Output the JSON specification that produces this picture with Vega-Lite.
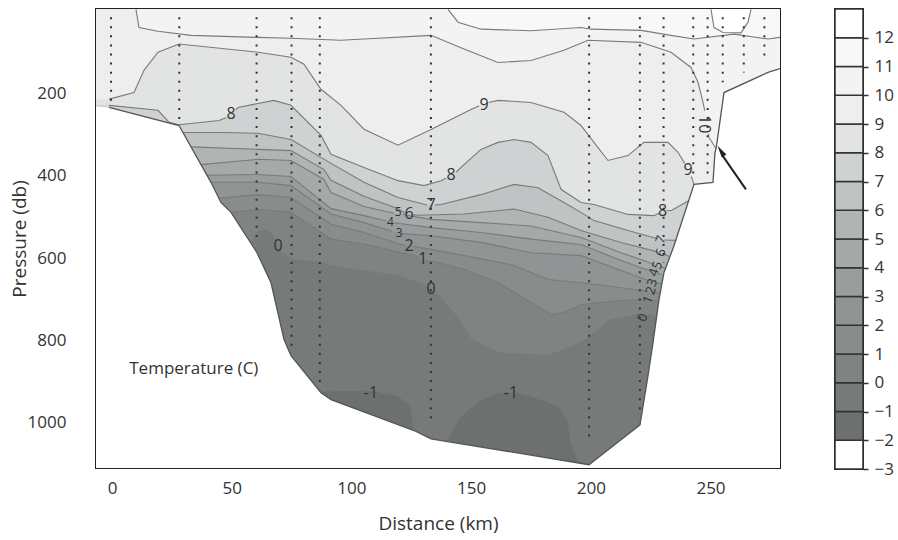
{
  "$schema": "https://vega.github.io/schema/vega-lite/v6.json",
  "padding": {"left": 9, "top": 7, "right": 5, "bottom": 5},
  "spacing": 51,
  "config": {
    "font": "Open Sans",
    "view": {"stroke": "#222", "strokeWidth": 2},
    "axis": {"labelColor": "#333", "titleColor": "#333", "tickColor": "#222", "domain": false, "grid": false, "titleFontWeight": "normal"}
  },
  "resolve": {"scale": {"color": "independent"}},
  "datasets": {
    "bottom": [
      {"x": -6.68, "p": 232}, {"x": -1.25, "p": 234}, {"x": 27.99, "p": 278}, {"x": 41.35, "p": 416},
      {"x": 45.5, "p": 465}, {"x": 49.71, "p": 489}, {"x": 60.57, "p": 587}, {"x": 66.42, "p": 660}, {"x": 71.85, "p": 798},
      {"x": 74.77, "p": 837}, {"x": 87.3, "p": 927}, {"x": 91.48, "p": 944}, {"x": 126.15, "p": 1019}, {"x": 133.25, "p": 1039},
      {"x": 199.25, "p": 1102}, {"x": 220.55, "p": 1005}, {"x": 223.89, "p": 886}, {"x": 225.98, "p": 806}, {"x": 228.49, "p": 701},
      {"x": 230.58, "p": 635}, {"x": 234.75, "p": 570}, {"x": 243.11, "p": 421}, {"x": 251.04, "p": 416}, {"x": 251.88, "p": 343},
      {"x": 252.3, "p": 334}, {"x": 252.72, "p": 319}, {"x": 255.64, "p": 198}, {"x": 274.02, "p": 149}, {"x": 279.03, "p": 140}
    ],
    "iso": [
      {"t": -1, "x": -6.68, "p": 1110}, {"t": -1, "x": 86.7, "p": 1110},
      {"t": -1, "x": 86.88, "p": 924, "seg": "m1a"}, {"t": -1, "x": 91.48, "p": 922, "seg": "m1a"}, {"t": -1, "x": 104.8, "p": 922, "seg": "m1a"},
      {"t": -1, "x": 111.8, "p": 925, "seg": "m1b"}, {"t": -1, "x": 119.47, "p": 934, "seg": "m1b"}, {"t": -1, "x": 124.9, "p": 959, "seg": "m1b"}, {"t": -1, "x": 126.15, "p": 1017, "seg": "m1b"},
      {"t": -1, "x": 126.3, "p": 1110}, {"t": -1, "x": 139.8, "p": 1110},
      {"t": -1, "x": 139.93, "p": 1045, "seg": "m1c"}, {"t": -1, "x": 144.53, "p": 992, "seg": "m1c"}, {"t": -1, "x": 147.03, "p": 976, "seg": "m1c"}, {"t": -1, "x": 154.14, "p": 944, "seg": "m1c"}, {"t": -1, "x": 160, "p": 929, "seg": "m1c"}, {"t": -1, "x": 163.3, "p": 926, "seg": "m1c"},
      {"t": -1, "x": 170, "p": 928, "seg": "m1d"}, {"t": -1, "x": 175.02, "p": 935, "seg": "m1d"}, {"t": -1, "x": 186.3, "p": 959, "seg": "m1d"}, {"t": -1, "x": 190.48, "p": 992, "seg": "m1d"}, {"t": -1, "x": 191.73, "p": 1049, "seg": "m1d"}, {"t": -1, "x": 194.65, "p": 1090, "seg": "m1d"},
      {"t": -1, "x": 194.8, "p": 1110}, {"t": -1, "x": 279.03, "p": 1110},

      {"t": 0, "x": -6.68, "p": 1110}, {"t": 0, "x": 57.9, "p": 1110},
      {"t": 0, "x": 58.06, "p": 564, "seg": "z0a"}, {"t": 0, "x": 61, "p": 536, "seg": "z0a"}, {"t": 0, "x": 65, "p": 532, "seg": "z0a"}, {"t": 0, "x": 67.8, "p": 552, "seg": "z0a"},
      {"t": 0, "x": 71, "p": 588, "seg": "z0b"}, {"t": 0, "x": 74.77, "p": 603, "seg": "z0b"}, {"t": 0, "x": 87.3, "p": 611, "seg": "z0b"}, {"t": 0, "x": 91.48, "p": 619, "seg": "z0b"}, {"t": 0, "x": 105.26, "p": 631, "seg": "z0b"}, {"t": 0, "x": 119.47, "p": 643, "seg": "z0b"}, {"t": 0, "x": 130.3, "p": 664, "seg": "z0b"},
      {"t": 0, "x": 136.2, "p": 690, "seg": "z0c"}, {"t": 0, "x": 138.68, "p": 708, "seg": "z0c"}, {"t": 0, "x": 144.53, "p": 745, "seg": "z0c"}, {"t": 0, "x": 149.96, "p": 797, "seg": "z0c"}, {"t": 0, "x": 161.24, "p": 830, "seg": "z0c"}, {"t": 0, "x": 182.12, "p": 837, "seg": "z0c"}, {"t": 0, "x": 192.98, "p": 813, "seg": "z0c"}, {"t": 0, "x": 199.25, "p": 793, "seg": "z0c"}, {"t": 0, "x": 208.44, "p": 750, "seg": "z0c"}, {"t": 0, "x": 219.72, "p": 737, "seg": "z0c"},
      {"t": 0, "x": 223.6, "p": 737, "seg": "z0d"}, {"t": 0, "x": 227.65, "p": 740, "seg": "z0d"},
      {"t": 0, "x": 227.8, "p": 1110}, {"t": 0, "x": 279.03, "p": 1110},

      {"t": 1, "x": -6.68, "p": 1110}, {"t": 1, "x": 49.6, "p": 1110},
      {"t": 1, "x": 49.71, "p": 489, "seg": "o1a"}, {"t": 1, "x": 60.99, "p": 482, "seg": "o1a"}, {"t": 1, "x": 74.77, "p": 489, "seg": "o1a"}, {"t": 1, "x": 91.48, "p": 554, "seg": "o1a"}, {"t": 1, "x": 105.26, "p": 566, "seg": "o1a"}, {"t": 1, "x": 126.15, "p": 594, "seg": "o1a"}, {"t": 1, "x": 128.3, "p": 599, "seg": "o1a"},
      {"t": 1, "x": 131.3, "p": 606, "seg": "o1b"}, {"t": 1, "x": 133.25, "p": 607, "seg": "o1b"}, {"t": 1, "x": 147.03, "p": 627, "seg": "o1b"}, {"t": 1, "x": 161.24, "p": 660, "seg": "o1b"}, {"t": 1, "x": 175.02, "p": 708, "seg": "o1b"}, {"t": 1, "x": 183.38, "p": 737, "seg": "o1b"}, {"t": 1, "x": 188.8, "p": 732, "seg": "o1b"}, {"t": 1, "x": 195.91, "p": 713, "seg": "o1b"}, {"t": 1, "x": 212.61, "p": 703, "seg": "o1b"}, {"t": 1, "x": 222.6, "p": 701, "seg": "o1b"},
      {"t": 1, "x": 225.4, "p": 702, "seg": "o1c"}, {"t": 1, "x": 228.07, "p": 706, "seg": "o1c"},
      {"t": 1, "x": 228.3, "p": 1110}, {"t": 1, "x": 279.03, "p": 1110},

      {"t": 2, "x": -6.68, "p": 1110}, {"t": 2, "x": 44.6, "p": 1110},
      {"t": 2, "x": 44.69, "p": 455, "seg": "t2a"}, {"t": 2, "x": 60.99, "p": 446, "seg": "t2a"}, {"t": 2, "x": 74.77, "p": 453, "seg": "t2a"}, {"t": 2, "x": 91.48, "p": 518, "seg": "t2a"}, {"t": 2, "x": 105.26, "p": 538, "seg": "t2a"}, {"t": 2, "x": 120.72, "p": 567, "seg": "t2a"}, {"t": 2, "x": 122.4, "p": 569, "seg": "t2a"},
      {"t": 2, "x": 125.8, "p": 572, "seg": "t2b"}, {"t": 2, "x": 133.25, "p": 579, "seg": "t2b"}, {"t": 2, "x": 147.03, "p": 594, "seg": "t2b"}, {"t": 2, "x": 167.92, "p": 618, "seg": "t2b"}, {"t": 2, "x": 182.12, "p": 652, "seg": "t2b"}, {"t": 2, "x": 195.91, "p": 660, "seg": "t2b"}, {"t": 2, "x": 212.61, "p": 672, "seg": "t2b"}, {"t": 2, "x": 223.8, "p": 681, "seg": "t2b"},
      {"t": 2, "x": 226.6, "p": 684, "seg": "t2c"}, {"t": 2, "x": 228.91, "p": 684, "seg": "t2c"},
      {"t": 2, "x": 229.0, "p": 1110}, {"t": 2, "x": 279.03, "p": 1110},

      {"t": 3, "x": -6.68, "p": 1110}, {"t": 3, "x": 41.3, "p": 1110},
      {"t": 3, "x": 41.35, "p": 416, "seg": "h3a"}, {"t": 3, "x": 60.99, "p": 416, "seg": "h3a"}, {"t": 3, "x": 74.77, "p": 424, "seg": "h3a"}, {"t": 3, "x": 91.48, "p": 493, "seg": "h3a"}, {"t": 3, "x": 105.26, "p": 514, "seg": "h3a"}, {"t": 3, "x": 116.9, "p": 535, "seg": "h3a"},
      {"t": 3, "x": 120.3, "p": 540, "seg": "h3b"}, {"t": 3, "x": 133.25, "p": 546, "seg": "h3b"}, {"t": 3, "x": 154.14, "p": 562, "seg": "h3b"}, {"t": 3, "x": 175.02, "p": 587, "seg": "h3b"}, {"t": 3, "x": 195.91, "p": 594, "seg": "h3b"}, {"t": 3, "x": 212.61, "p": 630, "seg": "h3b"}, {"t": 3, "x": 224.5, "p": 656, "seg": "h3b"},
      {"t": 3, "x": 227.1, "p": 661, "seg": "h3c"}, {"t": 3, "x": 229.32, "p": 662, "seg": "h3c"},
      {"t": 3, "x": 229.5, "p": 1110}, {"t": 3, "x": 279.03, "p": 1110},

      {"t": 4, "x": -6.68, "p": 1110}, {"t": 4, "x": 39.5, "p": 1110},
      {"t": 4, "x": 39.68, "p": 399, "seg": "f4a"}, {"t": 4, "x": 60.99, "p": 397, "seg": "f4a"}, {"t": 4, "x": 74.77, "p": 402, "seg": "f4a"}, {"t": 4, "x": 91.48, "p": 480, "seg": "f4a"}, {"t": 4, "x": 105.26, "p": 497, "seg": "f4a"}, {"t": 4, "x": 114.6, "p": 510, "seg": "f4a"},
      {"t": 4, "x": 118.2, "p": 514, "seg": "f4b"}, {"t": 4, "x": 120.3, "p": 516, "seg": "f4b"}, {"t": 4, "x": 133.25, "p": 526, "seg": "f4b"}, {"t": 4, "x": 154.14, "p": 538, "seg": "f4b"}, {"t": 4, "x": 175.02, "p": 554, "seg": "f4b"}, {"t": 4, "x": 195.91, "p": 567, "seg": "f4b"}, {"t": 4, "x": 212.61, "p": 606, "seg": "f4b"}, {"t": 4, "x": 225.1, "p": 632, "seg": "f4b"},
      {"t": 4, "x": 227.7, "p": 637, "seg": "f4c"}, {"t": 4, "x": 229.74, "p": 640, "seg": "f4c"},
      {"t": 4, "x": 229.9, "p": 1110}, {"t": 4, "x": 279.03, "p": 1110},

      {"t": 5, "x": -6.68, "p": 1110}, {"t": 5, "x": 37.0, "p": 1110},
      {"t": 5, "x": 37.18, "p": 373, "seg": "v5a"}, {"t": 5, "x": 60.99, "p": 360, "seg": "v5a"}, {"t": 5, "x": 74.77, "p": 363, "seg": "v5a"}, {"t": 5, "x": 88.55, "p": 409, "seg": "v5a"}, {"t": 5, "x": 91.48, "p": 441, "seg": "v5a"}, {"t": 5, "x": 105.26, "p": 475, "seg": "v5a"}, {"t": 5, "x": 117.8, "p": 491, "seg": "v5a"},
      {"t": 5, "x": 121.3, "p": 494, "seg": "v5b"}, {"t": 5, "x": 133.25, "p": 506, "seg": "v5b"}, {"t": 5, "x": 154.14, "p": 514, "seg": "v5b"}, {"t": 5, "x": 175.02, "p": 522, "seg": "v5b"}, {"t": 5, "x": 195.91, "p": 550, "seg": "v5b"}, {"t": 5, "x": 212.61, "p": 587, "seg": "v5b"}, {"t": 5, "x": 226.5, "p": 615, "seg": "v5b"},
      {"t": 5, "x": 229.2, "p": 620, "seg": "v5c"}, {"t": 5, "x": 231, "p": 625, "seg": "v5c"},
      {"t": 5, "x": 231.1, "p": 1110}, {"t": 5, "x": 279.03, "p": 1110},

      {"t": 6, "x": -6.68, "p": 1110}, {"t": 6, "x": 32.8, "p": 1110},
      {"t": 6, "x": 33.0, "p": 330, "seg": "s6a"}, {"t": 6, "x": 60.99, "p": 336, "seg": "s6a"}, {"t": 6, "x": 74.77, "p": 339, "seg": "s6a"}, {"t": 6, "x": 88.55, "p": 385, "seg": "s6a"}, {"t": 6, "x": 91.48, "p": 411, "seg": "s6a"}, {"t": 6, "x": 105.26, "p": 450, "seg": "s6a"}, {"t": 6, "x": 119.47, "p": 480, "seg": "s6a"}, {"t": 6, "x": 122.3, "p": 490, "seg": "s6a"},
      {"t": 6, "x": 125.8, "p": 495, "seg": "s6b"}, {"t": 6, "x": 127.82, "p": 496, "seg": "s6b"}, {"t": 6, "x": 147.03, "p": 493, "seg": "s6b"}, {"t": 6, "x": 167.92, "p": 481, "seg": "s6b"}, {"t": 6, "x": 182.12, "p": 501, "seg": "s6b"}, {"t": 6, "x": 195.91, "p": 533, "seg": "s6b"}, {"t": 6, "x": 212.61, "p": 562, "seg": "s6b"}, {"t": 6, "x": 228.0, "p": 585, "seg": "s6b"},
      {"t": 6, "x": 230.6, "p": 590, "seg": "s6c"}, {"t": 6, "x": 232.67, "p": 596, "seg": "s6c"},
      {"t": 6, "x": 232.8, "p": 1110}, {"t": 6, "x": 279.03, "p": 1110},

      {"t": 7, "x": -6.68, "p": 1110}, {"t": 7, "x": 29.5, "p": 1110},
      {"t": 7, "x": 29.66, "p": 295, "seg": "e7a"}, {"t": 7, "x": 46.78, "p": 295, "seg": "e7a"}, {"t": 7, "x": 60.99, "p": 297, "seg": "e7a"}, {"t": 7, "x": 74.77, "p": 312, "seg": "e7a"}, {"t": 7, "x": 91.48, "p": 370, "seg": "e7a"}, {"t": 7, "x": 105.26, "p": 416, "seg": "e7a"}, {"t": 7, "x": 119.47, "p": 453, "seg": "e7a"}, {"t": 7, "x": 131.6, "p": 471, "seg": "e7a"},
      {"t": 7, "x": 134.9, "p": 471, "seg": "e7b"}, {"t": 7, "x": 137.43, "p": 470, "seg": "e7b"}, {"t": 7, "x": 154.14, "p": 446, "seg": "e7b"}, {"t": 7, "x": 167.92, "p": 421, "seg": "e7b"}, {"t": 7, "x": 177.94, "p": 429, "seg": "e7b"}, {"t": 7, "x": 188.8, "p": 465, "seg": "e7b"}, {"t": 7, "x": 195.91, "p": 489, "seg": "e7b"}, {"t": 7, "x": 201.34, "p": 509, "seg": "e7b"}, {"t": 7, "x": 215.54, "p": 533, "seg": "e7b"}, {"t": 7, "x": 228.0, "p": 553, "seg": "e7b"},
      {"t": 7, "x": 230.7, "p": 556, "seg": "e7c"}, {"t": 7, "x": 235.59, "p": 557, "seg": "e7c"},
      {"t": 7, "x": 235.7, "p": 1110}, {"t": 7, "x": 279.03, "p": 1110},

      {"t": 8, "x": -6.68, "p": 228},
      {"t": 8, "x": -1.25, "p": 229, "seg": "g8a"}, {"t": 8, "x": 19.21, "p": 241, "seg": "g8a"}, {"t": 8, "x": 23.81, "p": 270, "seg": "g8a"}, {"t": 8, "x": 27.99, "p": 276, "seg": "g8a"}, {"t": 8, "x": 44.69, "p": 266, "seg": "g8a"}, {"t": 8, "x": 47.6, "p": 259, "seg": "g8a"},
      {"t": 8, "x": 51.8, "p": 240, "seg": "g8b"}, {"t": 8, "x": 52.63, "p": 234, "seg": "g8b"}, {"t": 8, "x": 67.67, "p": 217, "seg": "g8b"}, {"t": 8, "x": 74.77, "p": 229, "seg": "g8b"}, {"t": 8, "x": 87.3, "p": 302, "seg": "g8b"}, {"t": 8, "x": 91.48, "p": 348, "seg": "g8b"}, {"t": 8, "x": 105.26, "p": 380, "seg": "g8b"}, {"t": 8, "x": 119.47, "p": 412, "seg": "g8b"}, {"t": 8, "x": 130.33, "p": 424, "seg": "g8b"}, {"t": 8, "x": 137.43, "p": 412, "seg": "g8b"}, {"t": 8, "x": 139.4, "p": 406, "seg": "g8b"},
      {"t": 8, "x": 143.8, "p": 391, "seg": "g8c"}, {"t": 8, "x": 147.03, "p": 373, "seg": "g8c"}, {"t": 8, "x": 154.14, "p": 336, "seg": "g8c"}, {"t": 8, "x": 161.24, "p": 319, "seg": "g8c"}, {"t": 8, "x": 167.92, "p": 312, "seg": "g8c"}, {"t": 8, "x": 175.02, "p": 319, "seg": "g8c"}, {"t": 8, "x": 182.12, "p": 351, "seg": "g8c"}, {"t": 8, "x": 187.55, "p": 433, "seg": "g8c"}, {"t": 8, "x": 195.91, "p": 465, "seg": "g8c"}, {"t": 8, "x": 201.34, "p": 470, "seg": "g8c"}, {"t": 8, "x": 215.54, "p": 494, "seg": "g8c"}, {"t": 8, "x": 226.4, "p": 497, "seg": "g8c"}, {"t": 8, "x": 228.4, "p": 491, "seg": "g8c"},
      {"t": 8, "x": 231.6, "p": 484, "seg": "g8d"}, {"t": 8, "x": 233.5, "p": 485, "seg": "g8d"}, {"t": 8, "x": 241.02, "p": 460, "seg": "g8d"},
      {"t": 8, "x": 241.2, "p": 1110}, {"t": 8, "x": 279.03, "p": 1110},

      {"t": 9, "x": -6.68, "p": 214},
      {"t": 9, "x": -1.25, "p": 214, "seg": "n9a"}, {"t": 9, "x": 9.19, "p": 198, "seg": "n9a"}, {"t": 9, "x": 13.37, "p": 144, "seg": "n9a"}, {"t": 9, "x": 19.21, "p": 100, "seg": "n9a"}, {"t": 9, "x": 27.99, "p": 80, "seg": "n9a"}, {"t": 9, "x": 60.99, "p": 100, "seg": "n9a"}, {"t": 9, "x": 74.77, "p": 112, "seg": "n9a"}, {"t": 9, "x": 80.2, "p": 129, "seg": "n9a"}, {"t": 9, "x": 87.3, "p": 190, "seg": "n9a"}, {"t": 9, "x": 95.66, "p": 229, "seg": "n9a"}, {"t": 9, "x": 105.26, "p": 287, "seg": "n9a"}, {"t": 9, "x": 119.47, "p": 326, "seg": "n9a"}, {"t": 9, "x": 133.25, "p": 288, "seg": "n9a"}, {"t": 9, "x": 149.96, "p": 239, "seg": "n9a"}, {"t": 9, "x": 153.4, "p": 230, "seg": "n9a"},
      {"t": 9, "x": 157.4, "p": 222, "seg": "n9b"}, {"t": 9, "x": 161.24, "p": 217, "seg": "n9b"}, {"t": 9, "x": 175.02, "p": 222, "seg": "n9b"}, {"t": 9, "x": 188.8, "p": 246, "seg": "n9b"}, {"t": 9, "x": 195.91, "p": 278, "seg": "n9b"}, {"t": 9, "x": 201.34, "p": 319, "seg": "n9b"}, {"t": 9, "x": 207.18, "p": 363, "seg": "n9b"}, {"t": 9, "x": 215.54, "p": 351, "seg": "n9b"}, {"t": 9, "x": 222.22, "p": 319, "seg": "n9b"}, {"t": 9, "x": 232.25, "p": 319, "seg": "n9b"}, {"t": 9, "x": 236.42, "p": 343, "seg": "n9b"}, {"t": 9, "x": 239.2, "p": 370, "seg": "n9b"},
      {"t": 9, "x": 242.0, "p": 402, "seg": "n9c"}, {"t": 9, "x": 243.11, "p": 421, "seg": "n9c"},
      {"t": 9, "x": 243.2, "p": 1110}, {"t": 9, "x": 279.03, "p": 1110},

      {"t": 10, "x": -6.68, "p": -5}, {"t": 10, "x": 9.9, "p": -5},
      {"t": 10, "x": 10.03, "p": -4, "seg": "d10a"}, {"t": 10, "x": 11.28, "p": 40, "seg": "d10a"}, {"t": 10, "x": 19.21, "p": 49, "seg": "d10a"}, {"t": 10, "x": 33.0, "p": 59, "seg": "d10a"}, {"t": 10, "x": 60.99, "p": 64, "seg": "d10a"}, {"t": 10, "x": 74.77, "p": 66, "seg": "d10a"}, {"t": 10, "x": 95.66, "p": 71, "seg": "d10a"}, {"t": 10, "x": 105.26, "p": 68, "seg": "d10a"}, {"t": 10, "x": 133.25, "p": 59, "seg": "d10a"}, {"t": 10, "x": 147.03, "p": 92, "seg": "d10a"}, {"t": 10, "x": 161.24, "p": 125, "seg": "d10a"}, {"t": 10, "x": 175.02, "p": 120, "seg": "d10a"}, {"t": 10, "x": 188.8, "p": 95, "seg": "d10a"}, {"t": 10, "x": 198.83, "p": 71, "seg": "d10a"}, {"t": 10, "x": 220.97, "p": 76, "seg": "d10a"}, {"t": 10, "x": 233.5, "p": 100, "seg": "d10a"}, {"t": 10, "x": 241.85, "p": 137, "seg": "d10a"}, {"t": 10, "x": 244.78, "p": 173, "seg": "d10a"}, {"t": 10, "x": 246.87, "p": 222, "seg": "d10a"}, {"t": 10, "x": 247.6, "p": 242, "seg": "d10a"},
      {"t": 10, "x": 249.2, "p": 298, "seg": "d10b"}, {"t": 10, "x": 249.37, "p": 307, "seg": "d10b"}, {"t": 10, "x": 252.3, "p": 334, "seg": "d10b"},
      {"t": 10, "x": 252.4, "p": 1110}, {"t": 10, "x": 279.03, "p": 1110},

      {"t": 11, "x": -6.68, "p": -5}, {"t": 11, "x": 140.2, "p": -5},
      {"t": 11, "x": 140.35, "p": -4, "seg": "e11"}, {"t": 11, "x": 144.53, "p": 27, "seg": "e11"}, {"t": 11, "x": 154.14, "p": 44, "seg": "e11"}, {"t": 11, "x": 175.02, "p": 48, "seg": "e11"}, {"t": 11, "x": 195.91, "p": 40, "seg": "e11"}, {"t": 11, "x": 200.08, "p": 44, "seg": "e11"}, {"t": 11, "x": 220.97, "p": 47, "seg": "e11"}, {"t": 11, "x": 233.5, "p": 59, "seg": "e11"}, {"t": 11, "x": 243.11, "p": 68, "seg": "e11"}, {"t": 11, "x": 259.82, "p": 56, "seg": "e11"}, {"t": 11, "x": 274.02, "p": 68, "seg": "e11"}, {"t": 11, "x": 279.03, "p": 64, "seg": "e11"},

      {"t": 12, "x": -6.68, "p": -5}, {"t": 12, "x": 250.1, "p": -5},
      {"t": 12, "x": 250.21, "p": -4, "seg": "w12"}, {"t": 12, "x": 251.46, "p": 40, "seg": "w12"}, {"t": 12, "x": 255.22, "p": 52, "seg": "w12"}, {"t": 12, "x": 262.74, "p": 53, "seg": "w12"}, {"t": 12, "x": 265.67, "p": 27, "seg": "w12"}, {"t": 12, "x": 266.92, "p": -4, "seg": "w12"},
      {"t": 12, "x": 267.0, "p": -5}, {"t": 12, "x": 279.03, "p": -5}
    ],
    "stations": [
      {"x": -0.4, "p": 15, "bot": 218}, {"x": 28.1, "p": 15, "bot": 274}, {"x": 60.4, "p": 15, "bot": 562},
      {"x": 75.0, "p": 15, "bot": 813}, {"x": 86.8, "p": 15, "bot": 915}, {"x": 133.2, "p": 15, "bot": 995},
      {"x": 199.3, "p": 15, "bot": 1041}, {"x": 220.5, "p": 15, "bot": 968}, {"x": 230.4, "p": 15, "bot": 611},
      {"x": 242.8, "p": 15, "bot": 409}, {"x": 248.8, "p": 15, "bot": 405}, {"x": 255.1, "p": 15, "bot": 173},
      {"x": 263.9, "p": 15, "bot": 149}, {"x": 272.5, "p": 15, "bot": 125}
    ],
    "labels": [
      {"txt": "8", "x": 49.71, "p": 251}, {"txt": "9", "x": 155.39, "p": 227}, {"txt": "8", "x": 141.6, "p": 399},
      {"txt": "7", "x": 133.25, "p": 472}, {"txt": "6", "x": 124.06, "p": 494},
      {"txt": "2", "x": 124.06, "p": 570},
      {"txt": "1", "x": 129.8, "p": 603}, {"txt": "0", "x": 133.25, "p": 676}, {"txt": "0", "x": 69.34, "p": 570},
      {"txt": "-1", "x": 108.19, "p": 927}, {"txt": "-1", "x": 166.67, "p": 927},
      {"txt": "9", "x": 240.6, "p": 385}, {"txt": "8", "x": 230, "p": 485}
    ],
    "labelsSmall": [
      {"txt": "5", "x": 119.5, "p": 488}, {"txt": "4", "x": 116.3, "p": 513}, {"txt": "3", "x": 120.0, "p": 540}
    ],
    "labelsRot": [
      {"txt": "7", "x": 229.3, "p": 555}, {"txt": "6", "x": 229.3, "p": 587}, {"txt": "5", "x": 227.9, "p": 618},
      {"txt": "4", "x": 226.4, "p": 635}, {"txt": "3", "x": 225.8, "p": 660}, {"txt": "2", "x": 225.2, "p": 679},
      {"txt": "1", "x": 224, "p": 701}, {"txt": "0", "x": 221.7, "p": 745}
    ],
    "labels10": [{"txt": "10", "x": 247.3, "p": 275}],
    "note": [{"txt": "Temperature (C)", "x": 7.2, "p": 870}],
    "arrow": [{"x": 254.9, "p": 350}, {"x": 264.8, "p": 433}],
    "arrowHead": [{"x": 254.3, "p": 339.5}],
    "bar": [
      {"lo": -3, "hi": -2}, {"lo": -2, "hi": -1}, {"lo": -1, "hi": 0}, {"lo": 0, "hi": 1}, {"lo": 1, "hi": 2}, {"lo": 2, "hi": 3},
      {"lo": 3, "hi": 4}, {"lo": 4, "hi": 5}, {"lo": 5, "hi": 6}, {"lo": 6, "hi": 7}, {"lo": 7, "hi": 8}, {"lo": 8, "hi": 9},
      {"lo": 9, "hi": 10}, {"lo": 10, "hi": 11}, {"lo": 11, "hi": 12}, {"lo": 12, "hi": 13}
    ]
  },
  "hconcat": [
    {
      "width": 684,
      "height": 459,
      "resolve": {"axis": {"x": "independent", "y": "independent"}},
      "layer": [
        {
          "data": {"name": "bottom"},
          "mark": {"type": "area", "clip": true, "color": "#6c706f"},
          "encoding": {
            "x": {"field": "x", "type": "quantitative", "scale": {"domain": [-6.68, 279.03], "nice": false, "zero": false},
              "axis": {"orient": "bottom", "values": [0, 10, 20, 30, 40, 50, 60, 70, 80, 90, 100, 110, 120, 130, 140, 150, 160, 170, 180, 190, 200, 210, 220, 230, 240, 250, 260, 270],
                "format": "d", "labelExpr": "datum.value % 50 === 0 ? datum.label : ''",
                "tickSize": {"condition": {"test": "datum.value % 50 === 0", "value": -7}, "value": -4},
                "tickWidth": 1.5, "labelPadding": 19, "labelFontSize": 17, "labelOverlap": false, "labelFlush": false,
                "title": "Distance (km)", "titleFontSize": 19, "titlePadding": 15}},
            "y": {"field": "p", "type": "quantitative", "stack": null, "scale": {"domain": [-5, 1110], "reverse": true, "nice": false, "zero": false},
              "axis": {"orient": "left", "values": [40, 80, 120, 160, 200, 240, 280, 320, 360, 400, 440, 480, 520, 560, 600, 640, 680, 720, 760, 800, 840, 880, 920, 960, 1000, 1040, 1080],
                "format": "d", "labelExpr": "datum.value % 200 === 0 ? datum.label : ''",
                "tickSize": {"condition": {"test": "datum.value % 200 === 0", "value": -7}, "value": -4},
                "tickWidth": 1.5, "labelPadding": 37, "labelFontSize": 17, "labelOverlap": false, "labelFlush": false,
                "title": "Pressure (db)", "titleFontSize": 19, "titlePadding": 3, "minExtent": 64, "maxExtent": 64}},
            "y2": {"datum": -5}
          }
        },
        {
          "data": {"name": "iso"},
          "mark": {"type": "area", "clip": true},
          "encoding": {
            "x": {"field": "x", "type": "quantitative", "scale": {"domain": [-6.68, 279.03], "nice": false, "zero": false}, "axis": null},
            "y": {"field": "p", "type": "quantitative", "stack": null, "scale": {"domain": [-5, 1110], "reverse": true, "nice": false, "zero": false}, "axis": null},
            "y2": {"datum": -5},
            "color": {"field": "t", "type": "ordinal", "legend": null,
              "scale": {"domain": [-1, 0, 1, 2, 3, 4, 5, 6, 7, 8, 9, 10, 11, 12],
                "range": ["#767a79", "#7f8382", "#888c8b", "#909494", "#999d9d", "#a5a9a9", "#b0b4b4", "#c0c3c3", "#cfd2d2", "#e2e3e3", "#eeeeee", "#f3f3f3", "#f8f8f8", "#ffffff"]}}
          }
        },
        {
          "data": {"name": "bottom"},
          "mark": {"type": "area", "clip": true, "color": "#ffffff"},
          "encoding": {
            "x": {"field": "x", "type": "quantitative", "scale": {"domain": [-6.68, 279.03], "nice": false, "zero": false}, "axis": null},
            "y": {"field": "p", "type": "quantitative", "stack": null, "scale": {"domain": [-5, 1110], "reverse": true, "nice": false, "zero": false},
              "axis": {"orient": "right", "values": [40, 80, 120, 160, 200, 240, 280, 320, 360, 400, 440, 480, 520, 560, 600, 640, 680, 720, 760, 800, 840, 880, 920, 960, 1000, 1040, 1080],
                "labels": false, "tickSize": -4, "tickWidth": 1.5, "title": null, "minExtent": 0, "maxExtent": 0}},
            "y2": {"datum": 1110}
          }
        },
        {
          "data": {"name": "iso"},
          "transform": [{"filter": "isValid(datum.seg)"}],
          "mark": {"type": "line", "clip": true, "color": "#7a7a7a", "strokeWidth": 1.1},
          "encoding": {
            "x": {"field": "x", "type": "quantitative", "scale": {"domain": [-6.68, 279.03], "nice": false, "zero": false}, "axis": null},
            "y": {"field": "p", "type": "quantitative", "scale": {"domain": [-5, 1110], "reverse": true, "nice": false, "zero": false}, "axis": null},
            "detail": {"field": "seg"}
          }
        },
        {
          "data": {"name": "bottom"},
          "transform": [{"filter": "datum.x > -2"}],
          "mark": {"type": "line", "clip": true, "color": "#555", "strokeWidth": 1.3},
          "encoding": {
            "x": {"field": "x", "type": "quantitative", "scale": {"domain": [-6.68, 279.03], "nice": false, "zero": false}, "axis": null},
            "y": {"field": "p", "type": "quantitative", "scale": {"domain": [-5, 1110], "reverse": true, "nice": false, "zero": false}, "axis": null}
          }
        },
        {
          "data": {"name": "stations"},
          "mark": {"type": "rule", "color": "#333", "strokeWidth": 2, "strokeDash": [2, 7.07]},
          "encoding": {
            "x": {"field": "x", "type": "quantitative", "scale": {"domain": [-6.68, 279.03], "nice": false, "zero": false}, "axis": null},
            "y": {"field": "p", "type": "quantitative", "scale": {"domain": [-5, 1110], "reverse": true, "nice": false, "zero": false}, "axis": null},
            "y2": {"field": "bot"}
          }
        },
        {
          "data": {"name": "labels"},
          "mark": {"type": "text", "fontSize": 16, "color": "#333", "align": "center", "baseline": "middle"},
          "encoding": {
            "x": {"field": "x", "type": "quantitative", "scale": {"domain": [-6.68, 279.03], "nice": false, "zero": false}, "axis": null},
            "y": {"field": "p", "type": "quantitative", "scale": {"domain": [-5, 1110], "reverse": true, "nice": false, "zero": false}, "axis": null},
            "text": {"field": "txt"}
          }
        },
        {
          "data": {"name": "labelsSmall"},
          "mark": {"type": "text", "fontSize": 12, "color": "#333", "align": "center", "baseline": "middle"},
          "encoding": {
            "x": {"field": "x", "type": "quantitative", "scale": {"domain": [-6.68, 279.03], "nice": false, "zero": false}, "axis": null},
            "y": {"field": "p", "type": "quantitative", "scale": {"domain": [-5, 1110], "reverse": true, "nice": false, "zero": false}, "axis": null},
            "text": {"field": "txt"}
          }
        },
        {
          "data": {"name": "labelsRot"},
          "mark": {"type": "text", "fontSize": 13, "color": "#333", "align": "center", "baseline": "middle", "angle": 290},
          "encoding": {
            "x": {"field": "x", "type": "quantitative", "scale": {"domain": [-6.68, 279.03], "nice": false, "zero": false}, "axis": null},
            "y": {"field": "p", "type": "quantitative", "scale": {"domain": [-5, 1110], "reverse": true, "nice": false, "zero": false}, "axis": null},
            "text": {"field": "txt"}
          }
        },
        {
          "data": {"name": "labels10"},
          "mark": {"type": "text", "fontSize": 16, "color": "#333", "align": "center", "baseline": "middle", "angle": 90},
          "encoding": {
            "x": {"field": "x", "type": "quantitative", "scale": {"domain": [-6.68, 279.03], "nice": false, "zero": false}, "axis": null},
            "y": {"field": "p", "type": "quantitative", "scale": {"domain": [-5, 1110], "reverse": true, "nice": false, "zero": false}, "axis": null},
            "text": {"field": "txt"}
          }
        },
        {
          "data": {"name": "note"},
          "mark": {"type": "text", "fontSize": 17, "color": "#333", "align": "left", "baseline": "middle"},
          "encoding": {
            "x": {"field": "x", "type": "quantitative", "scale": {"domain": [-6.68, 279.03], "nice": false, "zero": false}, "axis": null},
            "y": {"field": "p", "type": "quantitative", "scale": {"domain": [-5, 1110], "reverse": true, "nice": false, "zero": false}, "axis": null},
            "text": {"field": "txt"}
          }
        },
        {
          "data": {"name": "arrow"},
          "mark": {"type": "line", "color": "#222", "strokeWidth": 2},
          "encoding": {
            "x": {"field": "x", "type": "quantitative", "scale": {"domain": [-6.68, 279.03], "nice": false, "zero": false}, "axis": null},
            "y": {"field": "p", "type": "quantitative", "scale": {"domain": [-5, 1110], "reverse": true, "nice": false, "zero": false}, "axis": null}
          }
        },
        {
          "data": {"name": "arrowHead"},
          "mark": {"type": "point", "shape": "M0,-1L0.45,1L-0.45,1Z", "filled": true, "color": "#222", "size": 150, "angle": 327, "opacity": 1},
          "encoding": {
            "x": {"field": "x", "type": "quantitative", "scale": {"domain": [-6.68, 279.03], "nice": false, "zero": false}, "axis": null},
            "y": {"field": "p", "type": "quantitative", "scale": {"domain": [-5, 1110], "reverse": true, "nice": false, "zero": false}, "axis": null}
          }
        }
      ]
    },
    {
      "width": 28,
      "height": 460,
      "data": {"name": "bar"},
      "mark": {"type": "rect", "stroke": "#333", "strokeWidth": 1.5},
      "encoding": {
        "y": {"field": "lo", "type": "quantitative", "scale": {"domain": [-3, 13], "nice": false, "zero": false},
          "axis": {"orient": "right", "values": [-3, -2, -1, 0, 1, 2, 3, 4, 5, 6, 7, 8, 9, 10, 11, 12], "tickSize": 5, "tickWidth": 1.5, "tickColor": "#333",
            "labelPadding": 6, "labelFontSize": 17, "title": null, "labelOverlap": false, "labelFlush": false}},
        "y2": {"field": "hi"},
        "color": {"field": "lo", "type": "ordinal", "legend": null,
          "scale": {"domain": [-3, -2, -1, 0, 1, 2, 3, 4, 5, 6, 7, 8, 9, 10, 11, 12],
            "range": ["#ffffff", "#6c706f", "#767a79", "#7f8382", "#888c8b", "#909494", "#999d9d", "#a5a9a9", "#b0b4b4", "#c0c3c3", "#cfd2d2", "#e2e3e3", "#eeeeee", "#f3f3f3", "#f8f8f8", "#ffffff"]}}
      }
    }
  ]
}
